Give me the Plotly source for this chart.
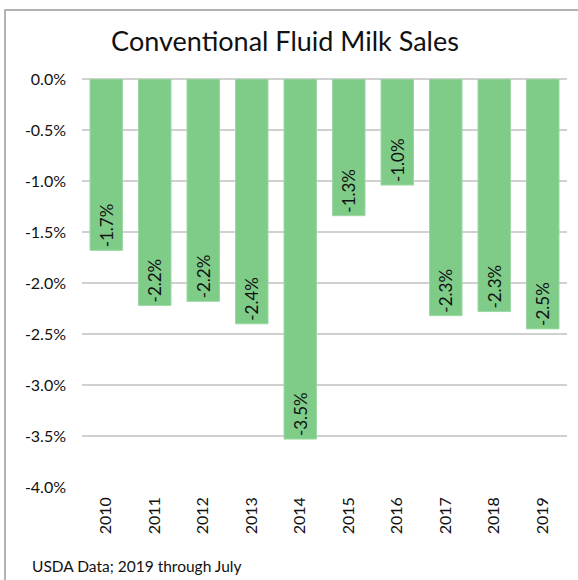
import plotly.graph_objects as go

years = ["2010", "2011", "2012", "2013", "2014", "2015", "2016", "2017", "2018", "2019"]
changes = [-1.68, -2.22, -2.18, -2.40, -3.53, -1.34, -1.04, -2.32, -2.28, -2.45]
labels = ["-1.7%", "-2.2%", "-2.2%", "-2.4%", "-3.5%", "-1.3%", "-1.0%", "-2.3%", "-2.3%", "-2.5%"]
tick_vals = [0.0, -0.5, -1.0, -1.5, -2.0, -2.5, -3.0, -3.5, -4.0]
tick_text = ["0.0%", "-0.5%", "-1.0%", "-1.5%", "-2.0%", "-2.5%", "-3.0%", "-3.5%", "-4.0%"]

FONT = "Lato"
L, R, T, B = 82, 11, 79, 93
W, H = 578, 580
pw, ph = W - L - R, H - T - B

fig = go.Figure(go.Bar(
    x=years, y=changes, text=labels,
    textposition="inside", insidetextanchor="end", textangle=-90,
    textfont=dict(family=FONT, size=17, color="#111111"),
    marker=dict(color="#7fcc89", line=dict(color="#9bd8a3", width=1)),
    cliponaxis=False,
))

fig.update_layout(
    width=W, height=H,
    margin=dict(l=L, r=R, t=T, b=B),
    paper_bgcolor="white", plot_bgcolor="white",
    bargap=0.33,
    showlegend=False,
    font=dict(family=FONT, color="#111111"),
    title=dict(text="Conventional Fluid Milk Sales", x=(285 - L) / pw * (pw / W) + L / W, xanchor="center",
               y=1 - 42 / H, yanchor="middle",
               font=dict(family=FONT, size=27, color="#111111")),
    xaxis=dict(tickangle=-90, tickfont=dict(family=FONT, size=16, color="#111111"),
               showgrid=False, showline=False, ticks="", ticklen=0, ticklabelstandoff=6),
    yaxis=dict(range=[-4.0, 0.0], tickvals=tick_vals, ticktext=tick_text,
               tickfont=dict(family=FONT, size=16, color="#111111"),
               showgrid=True, gridcolor="#d0d0d0", gridwidth=1.5,
               zeroline=True, zerolinecolor="#d0d0d0", zerolinewidth=1.5,
               showline=False, ticks="", ticklabelstandoff=15),
    shapes=[dict(type="rect", xref="paper", yref="paper",
                 x0=(5 - L) / pw, x1=(W + 20 - L) / pw,
                 y0=(H - B - (H + 20)) / ph, y1=(H - B - 10) / ph,
                 line=dict(color="#9a9a9a", width=1.5), fillcolor="rgba(0,0,0,0)",
                 layer="below")],
    annotations=[dict(text="USDA Data; 2019 through July", xref="paper", yref="paper",
                      x=(30 - L) / pw, y=(H - B - 566) / ph, xanchor="left", yanchor="middle",
                      showarrow=False, font=dict(family=FONT, size=15.5, color="#111111"))],
)

fig.write_html("out.html")
